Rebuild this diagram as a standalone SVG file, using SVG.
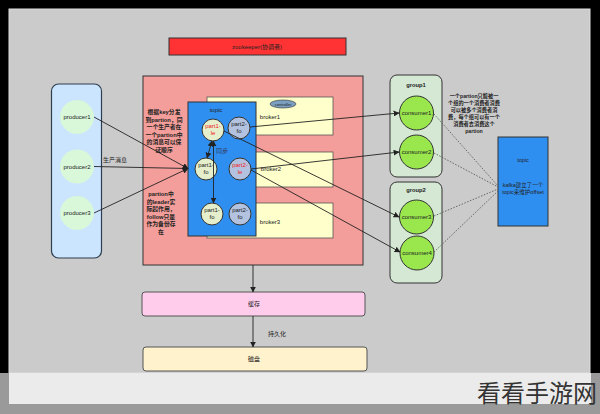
<svg xmlns="http://www.w3.org/2000/svg" width="600" height="414" viewBox="0 0 600 414">
<style>
text{font-family:"Liberation Sans","Noto Sans CJK SC",sans-serif;text-anchor:middle;fill:#222}
.s{font-size:6px}
.b{font-size:5.8px;font-weight:bold}
.n{font-size:5.2px;font-weight:bold}
.p{fill:#d9f7d9;stroke:none}
.c{fill:#99e64d;stroke:#333;stroke-width:1}
.p1{fill:#e6efcc;stroke:#333;stroke-width:1}
.p2{fill:#b3c3df;stroke:#333;stroke-width:1}
.br{fill:#ffffcc;stroke:#555;stroke-width:0.8}
.ln{stroke:#222;stroke-width:0.9;fill:none}
.dt{stroke:#666;stroke-width:1;fill:none;stroke-dasharray:1.5,1.5}
</style>
<defs>
<marker id="a" viewBox="0 0 10 10" refX="9" refY="5" markerWidth="6" markerHeight="6" orient="auto-start-reverse" markerUnits="userSpaceOnUse"><path d="M0,0L10,5L0,10z" fill="#222"/></marker>
</defs>
<rect width="600" height="414" fill="#000"/>
<rect x="9" y="9" width="581" height="364" fill="#cbcbcb" stroke="#ddd" stroke-width="1"/>
<rect x="0" y="373" width="600" height="41" fill="#9a9a9a"/>
<rect x="9" y="373" width="582" height="31" fill="#ebebeb"/>

<g id="zookeeper"><rect x="169" y="38" width="177" height="17" fill="#ff3333" stroke="#333" stroke-width="1"/><text class="s" x="257" y="49">zookeeper(协调者)</text></g>

<g id="producers">
<rect x="51.5" y="84" width="50" height="174" rx="7" fill="#cce5ff" stroke="#2d3e50" stroke-width="1.2"/>
<circle class="p" cx="77" cy="117" r="17"/><text class="s" x="77" y="119">producer1</text>
<circle class="p" cx="77" cy="166.5" r="17"/><text class="s" x="77" y="168.5">producer2</text>
<circle class="p" cx="77" cy="213" r="17"/><text class="s" x="77" y="215">producer3</text>
</g>

<g id="cluster"><rect x="143" y="76" width="220" height="189" fill="#f39e9a" stroke="#333" stroke-width="1"/></g>

<g id="broker1"><rect class="br" x="207" y="97" width="126" height="38"/><text class="s" x="270" y="119">broker1</text>
<ellipse cx="283" cy="104" rx="13" ry="4" fill="#7b9fc0" stroke="#333" stroke-width="0.6"/><text x="283" y="106" style="font-size:4px">controller</text></g>
<g id="broker2"><rect class="br" x="207" y="152" width="126" height="35"/><text class="s" x="271" y="171">broker2</text></g>
<g id="broker3"><rect class="br" x="207" y="203" width="126" height="35"/><text class="s" x="270" y="224">broker3</text></g>

<g id="topic"><rect x="188" y="102" width="68" height="134" fill="#2f8ff0" stroke="#333" stroke-width="1"/><text class="s" x="216" y="112">topic</text><text class="s" x="222" y="153" style="fill:#335">同步</text></g>

<g id="p1le"><circle class="p1" cx="213" cy="130" r="11"/><text class="s" x="213" y="128" style="fill:#e22">part1-</text><text class="s" x="213" y="135" style="fill:#e22">le</text></g>
<g id="p2fo1"><circle class="p2" cx="239" cy="128" r="11"/><text class="s" x="239" y="126">part2-</text><text class="s" x="239" y="133">fo</text></g>
<g id="p1fo1"><circle class="p1" cx="206" cy="169" r="11"/><text class="s" x="206" y="167">part1-</text><text class="s" x="206" y="174">fo</text></g>
<g id="p2le"><circle class="p2" cx="240" cy="169" r="11"/><text class="s" x="240" y="167" style="fill:#e22">part2-</text><text class="s" x="240" y="174" style="fill:#e22">le</text></g>
<g id="p1fo2"><circle class="p1" cx="212" cy="214" r="11"/><text class="s" x="212" y="212">part1-</text><text class="s" x="212" y="219">fo</text></g>
<g id="p2fo2"><circle class="p2" cx="240" cy="214" r="11"/><text class="s" x="240" y="212">part2-</text><text class="s" x="240" y="219">fo</text></g>

<g id="note1"><text class="b" x="164" y="114">根据key分发</text><text class="b" x="164" y="121.5">到partion，同</text><text class="b" x="164" y="129">一个生产者在</text><text class="b" x="164" y="136.5">一个partion中</text><text class="b" x="164" y="144">的消息可以保</text><text class="b" x="164" y="151.5">证顺序</text></g>
<g id="note2"><text class="b" x="161" y="196">partion中</text><text class="b" x="161" y="203.5">的leader实</text><text class="b" x="161" y="211">际起作用，</text><text class="b" x="161" y="218.5">follow只是</text><text class="b" x="161" y="226">作为备份存</text><text class="b" x="161" y="233.5">在</text></g>

<g id="group1"><rect x="390" y="75" width="52" height="102" rx="7" fill="#d5e8d4" stroke="#333" stroke-width="1"/><text class="b" x="416" y="87">group1</text>
<circle class="c" cx="416.5" cy="113" r="17"/><text class="s" x="416.5" y="115">consumer1</text>
<circle class="c" cx="416.5" cy="152" r="17"/><text class="s" x="416.5" y="154">consumer2</text></g>
<g id="group2"><rect x="390" y="182" width="52" height="101" rx="7" fill="#d5e8d4" stroke="#333" stroke-width="1"/><text class="b" x="416" y="192">group2</text>
<circle class="c" cx="416.5" cy="217" r="17"/><text class="s" x="416.5" y="219">consumer3</text>
<circle class="c" cx="417" cy="253" r="17"/><text class="s" x="417" y="255">consumer4</text></g>

<g id="note3"><text class="n" x="474" y="98">一个partion只能被一</text><text class="n" x="474" y="105">个组的一个消费者消费</text><text class="n" x="474" y="112">可以被多个消费者消</text><text class="n" x="474" y="119">费，每个组可以有一个</text><text class="n" x="474" y="126">消费者去消费这个</text><text class="n" x="474" y="133">partion</text></g>

<g id="offsetTopic"><rect x="498" y="137" width="50" height="89" fill="#2f8ff0" stroke="#333" stroke-width="1"/><text class="s" x="523" y="162" style="font-size:5.5px">topic</text><text class="s" x="523" y="187" style="font-size:5.5px">kafka建立了一个</text><text class="s" x="523" y="194" style="font-size:5.5px">topic来维护offset</text></g>

<g id="cache"><rect x="142" y="292" width="223" height="24" rx="3" fill="#ffccec" stroke="#555" stroke-width="1"/><text class="s" x="254" y="306">缓存</text></g>
<g id="disk"><rect x="143" y="347" width="224" height="24" rx="3" fill="#fff2cc" stroke="#555" stroke-width="1"/><text class="s" x="254" y="361">磁盘</text></g>

<g id="connectors">
<line class="ln" x1="94" y1="117" x2="188" y2="168.5" marker-end="url(#a)"/>
<line class="ln" x1="94" y1="166.5" x2="188" y2="168.5" marker-end="url(#a)"/>
<line class="ln" x1="94" y1="213" x2="188" y2="168.5" marker-end="url(#a)"/>
<text class="s" x="115" y="162">生产消息</text>
<line class="ln" x1="212" y1="141" x2="207" y2="158" marker-start="url(#a)" marker-end="url(#a)"/>
<line class="ln" x1="213.5" y1="141" x2="213.5" y2="203" marker-start="url(#a)" marker-end="url(#a)"/>
<line class="ln" x1="250" y1="127" x2="399" y2="113" marker-end="url(#a)"/>
<line class="ln" x1="251" y1="169" x2="399" y2="152" marker-end="url(#a)"/>
<line class="ln" x1="224" y1="131" x2="399" y2="217" marker-end="url(#a)"/>
<line class="ln" x1="251" y1="170" x2="400" y2="252" marker-end="url(#a)"/>
<line class="dt" x1="434" y1="114" x2="498" y2="186"/>
<line class="dt" x1="434" y1="153" x2="498" y2="187"/>
<line class="dt" x1="434" y1="216" x2="498" y2="189"/>
<line class="dt" x1="434" y1="252" x2="498" y2="191"/>
<line class="ln" x1="253" y1="265" x2="253" y2="292" marker-end="url(#a)"/>
<line class="ln" x1="253" y1="316" x2="253" y2="347" marker-end="url(#a)"/>
<text class="s" x="277" y="336">持久化</text>
</g>
<text x="537" y="402" style="font-size:24px;fill:#333;font-family:'Noto Sans CJK SC',sans-serif">看看手游网</text>
</svg>
